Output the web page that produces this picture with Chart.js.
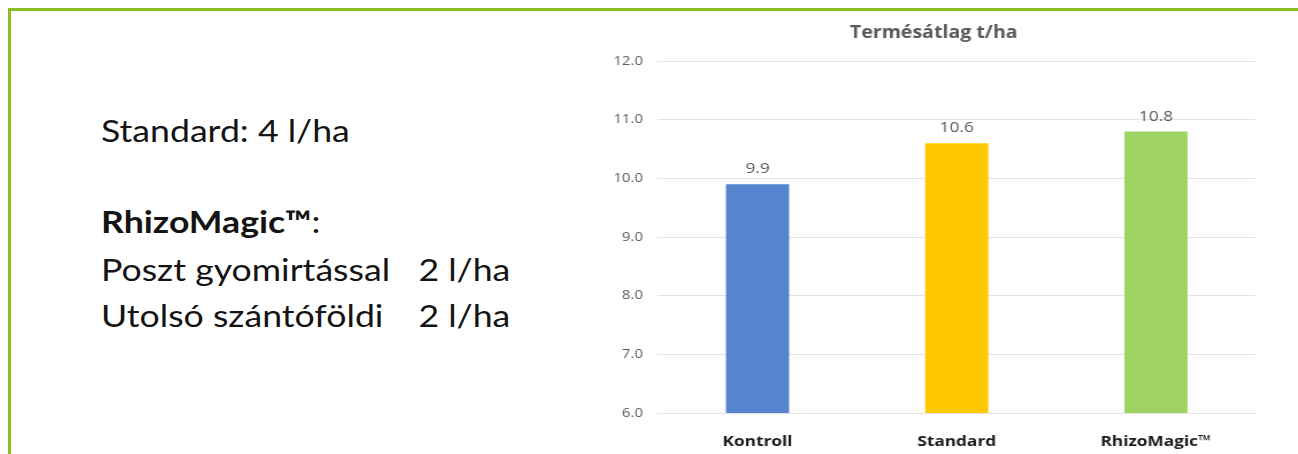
<!DOCTYPE html>
<html>
<head>
<meta charset="utf-8">
<script src="https://cdn.jsdelivr.net/npm/chart.js@4"></script>
<style>
  html, body { margin: 0; padding: 0; background: #fff; }
  body { width: 1298px; height: 454px; position: relative; overflow: hidden; }
  #frame { position: absolute; left: 8px; top: 8px; width: 1300px; height: 460px;
           border-top: 3px solid #8fbd24; border-left: 3px solid #8fbd24; box-sizing: border-box; }
  .txt { position: absolute; left: 101px; font-family: Lato, "Noto Sans", sans-serif; font-size: 31px;
         line-height: 46px; color: #141414; white-space: pre; transform: scaleX(1.15); transform-origin: 0 0; }
  .txt b { font-weight: 700; }
  .txt .lbl { display: inline-block; width: 276px; }
  #wrap { position: absolute; left: 600px; top: 12px; width: 583px; height: 442px;
          transform: scaleX(1.15); transform-origin: 0 0; }
</style>
</head>
<body>
<div id="frame"></div>
<div class="txt" style="top:107px">Standard: 4 l/ha</div>
<div class="txt" style="top:198px"><b>RhizoMagic™</b>:</div>
<div class="txt" style="top:246px"><span class="lbl">Poszt gyomirtással</span>2 l/ha</div>
<div class="txt" style="top:292px"><span class="lbl">Utolsó szántóföldi</span>2 l/ha</div>
<div id="wrap"><canvas id="c"></canvas></div>
<script>
const categories = ["Kontroll", "Standard", "RhizoMagic™"];
const yieldValues = [9.9, 10.6, 10.8];
const barColors = ["#5585cf", "#ffc800", "#9fd462"];
const chartTitle = "Termésátlag t/ha";
const yMin = 6, yMax = 12, yStep = 1;

const valueLabels = {
  id: "valueLabels",
  afterDatasetsDraw(chart) {
    const ctx = chart.ctx;
    const meta = chart.getDatasetMeta(0);
    ctx.save();
    ctx.font = "15px 'Open Sans', sans-serif";
    ctx.fillStyle = "#595959";
    ctx.textAlign = "center";
    ctx.textBaseline = "middle";
    meta.data.forEach((el, i) => {
      ctx.fillText(yieldValues[i].toFixed(1), el.x, el.y - 15);
    });
    ctx.restore();
  }
};

new Chart(document.getElementById("c"), {
  type: "bar",
  data: {
    labels: categories,
    datasets: [{
      data: yieldValues,
      backgroundColor: barColors,
      borderWidth: 0,
      categoryPercentage: 1,
      barPercentage: 0.317
    }]
  },
  options: {
    responsive: true,
    maintainAspectRatio: false,
    animation: false,
    layout: { padding: { left: 10.4, right: 13, top: 0, bottom: 0 } },
    plugins: {
      legend: { display: false },
      tooltip: { enabled: false },
      title: {
        display: true,
        text: chartTitle,
        color: "#595959",
        font: { family: "'Open Sans', sans-serif", size: 17, weight: "bold" },
        padding: { top: 11, bottom: 17.6 }
      }
    },
    scales: {
      x: {
        grid: { display: false, drawTicks: false },
        border: { display: true, color: "#e3e3e3", width: 1 },
        ticks: {
          color: "#1a1a1a",
          font: { family: "'Open Sans', sans-serif", size: 15, weight: "bold" },
          padding: 20
        },
        afterFit(scale) { scale.height = 41; }
      },
      y: {
        min: yMin, max: yMax,
        grid: { color: "#e3e3e3", lineWidth: 1, drawTicks: false },
        border: { display: false },
        ticks: {
          stepSize: yStep,
          color: "#595959",
          font: { family: "'Open Sans', sans-serif", size: 13 },
          padding: 13,
          callback: v => Number(v).toFixed(1)
        },
        afterFit(scale) { scale.width = 40; }
      }
    }
  },
  plugins: [valueLabels]
});
</script>
</body>
</html>
